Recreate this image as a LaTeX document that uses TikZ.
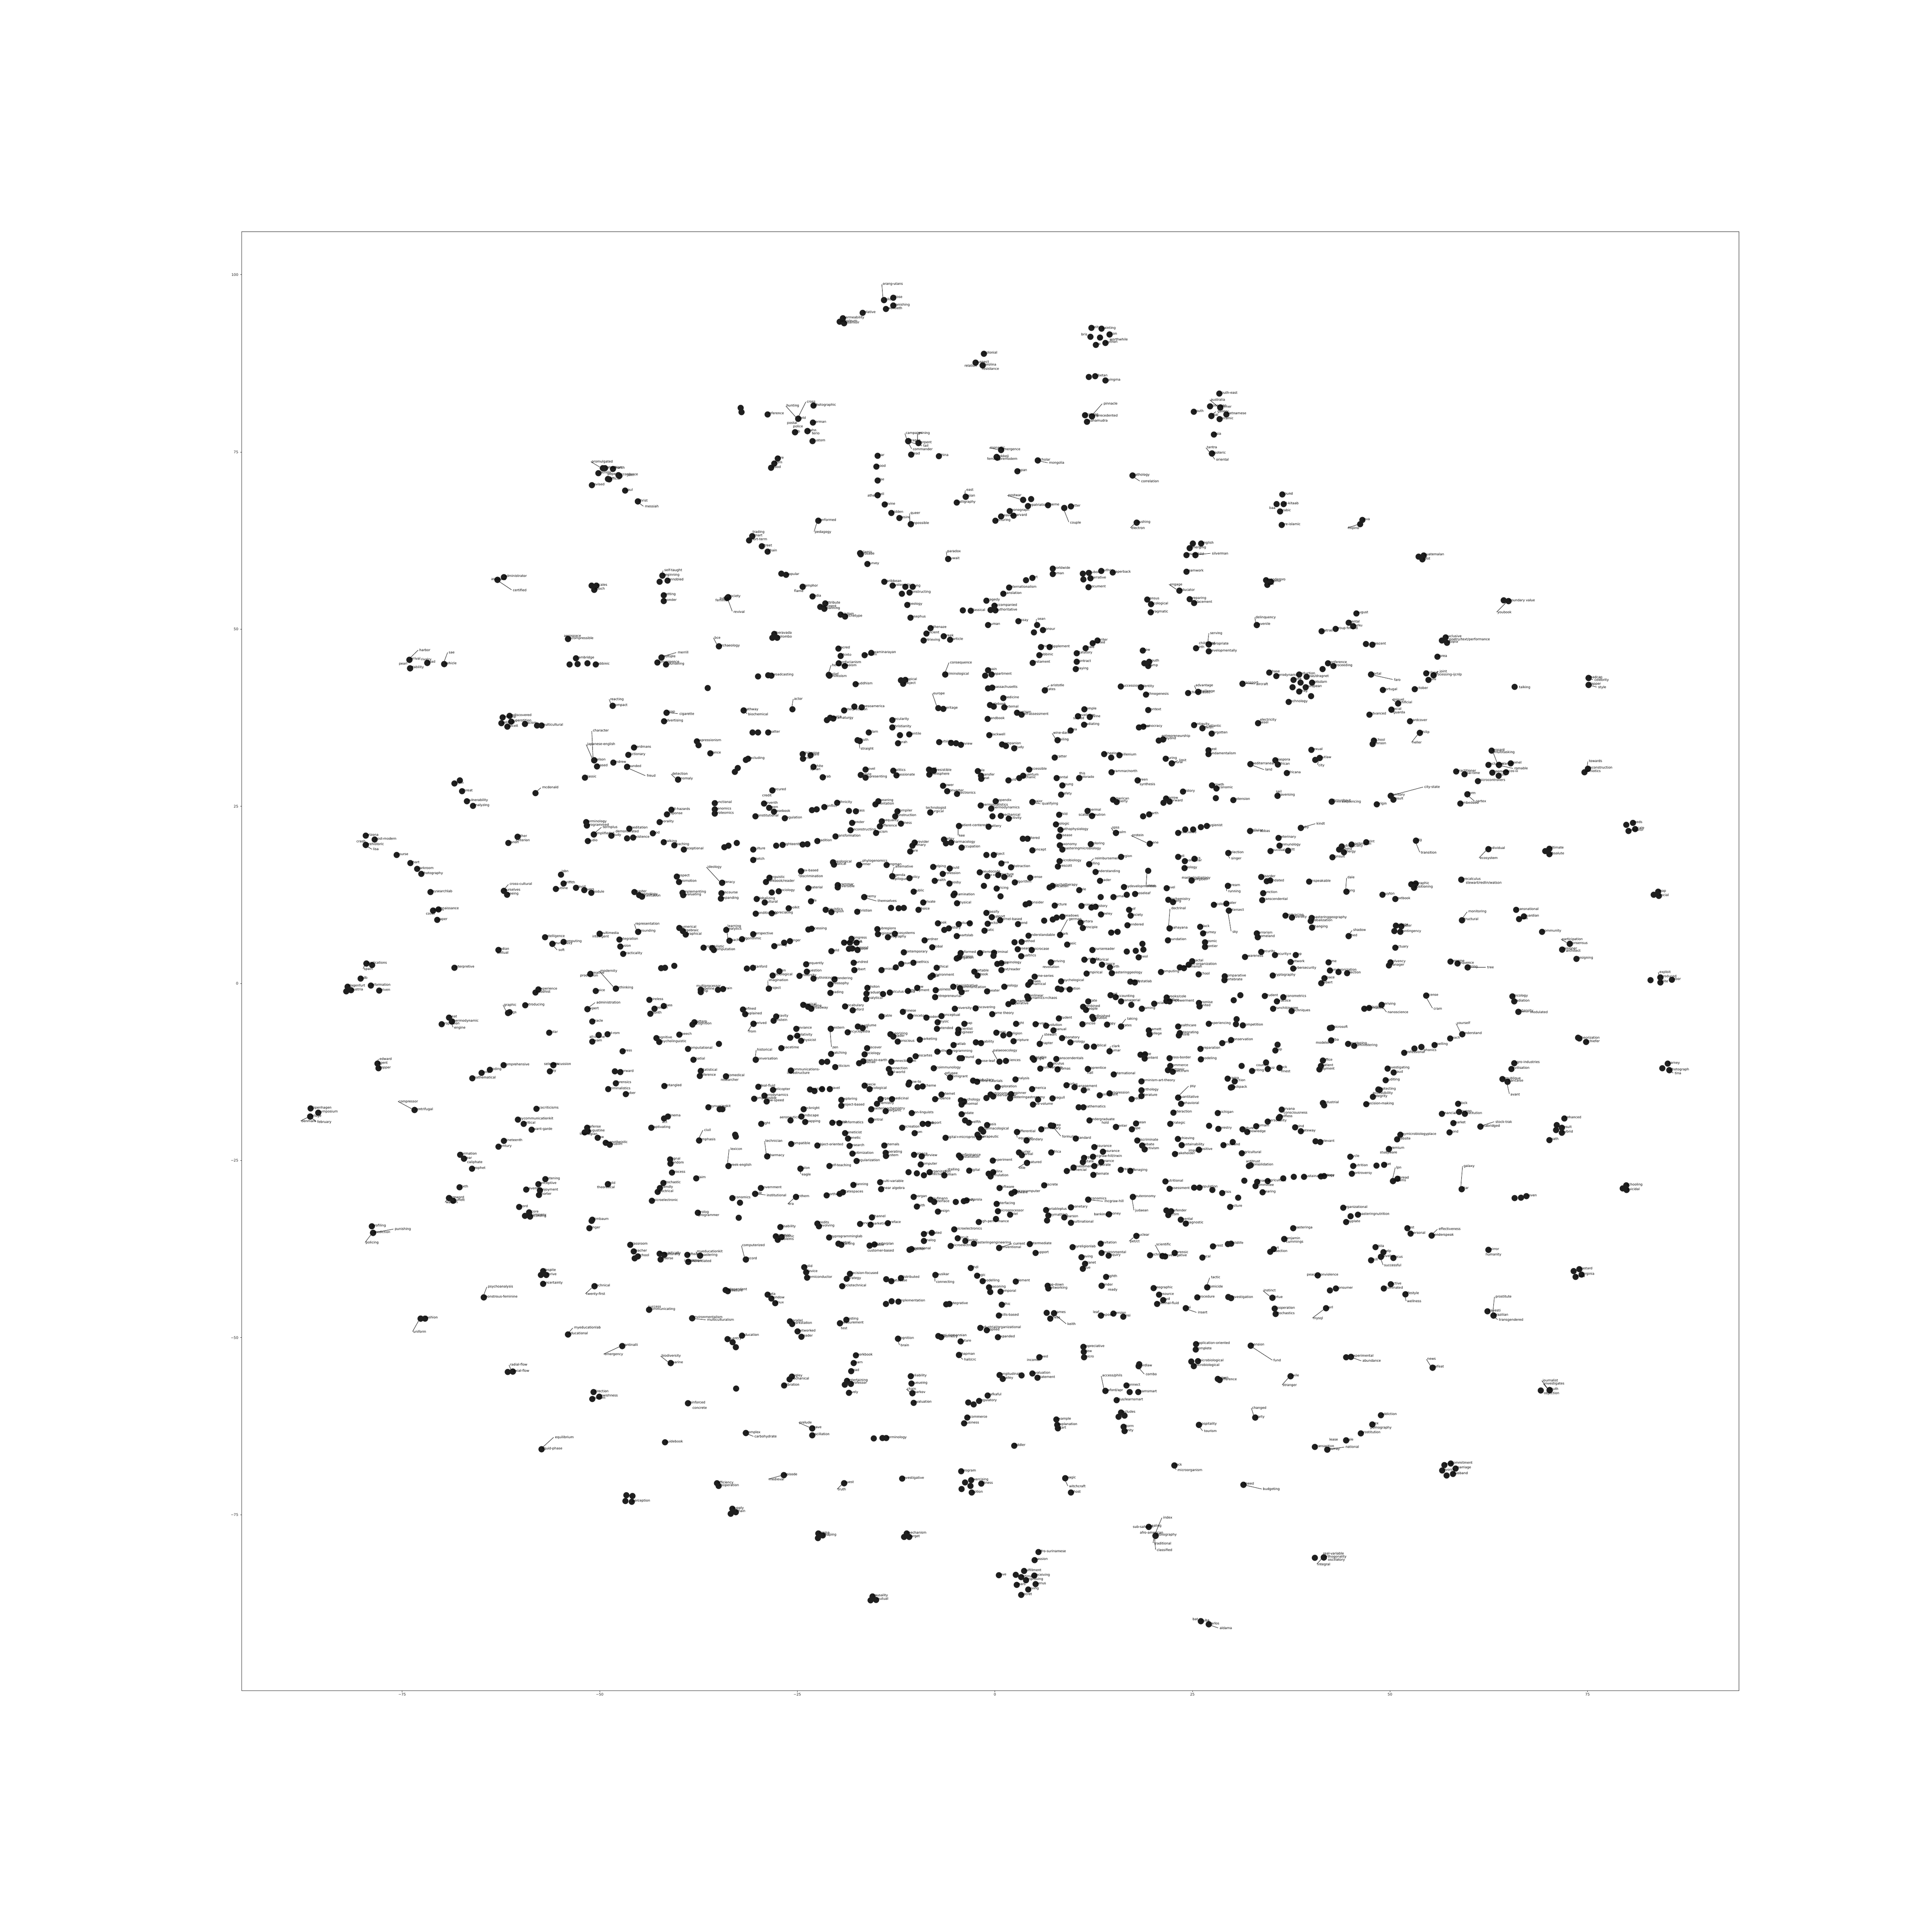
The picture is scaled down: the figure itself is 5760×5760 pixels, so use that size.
\documentclass[tikz,border=0pt]{standalone}
\usepackage{fontspec}
\setmainfont{DejaVu Sans}
\newbox\dotraw
\newbox\dotbox
\newdimen\dotsz
\tikzset{
  conn/.style={draw=black,line width=0.28pt,shorten <=2pt,shorten >=0.3pt},
  tick/.style={draw=black!85,line width=0.3pt},
  ticklbl/.style={font=\fontsize{3.0pt}{3.5pt}\selectfont,inner sep=0pt,text=black!85}
}
\def\lblfont{\fontsize{2.8pt}{3.3pt}\selectfont}
%================ data
\def\regionA{%
\Dq{1130}{746}{1095}{725}{promulgated}
\Dp{1137}{746}{catechism}
\Dp{1162}{748}{church}
\Dp{1116}{762}{catholic}
\Dl{1146}{780}{1145}{764}{pope}
\Dp{1179}{768}{accordance}
\Dp{1150}{781}{official}
\Dl{1182}{770}{1206}{768}{john}
\Dp{1096}{799}{revised}
\Dp{1200}{816}{paul}
\Dp{1240}{850}{christ}
\Dq{1240}{850}{1262}{866}{messiah}
\Dp{820}{1087}{administrator}
\Dl{800}{1096}{780}{1094}{assistant}
\Dq{800}{1096}{848}{1128}{certified}
\Dp{1095}{1114}{}
\Dp{1110}{1114}{scales}
\Dp{1103}{1127}{epoch}
\Dq{1317}{1083}{1323}{1066}{self-taught}
\Dp{1317}{1083}{beginning}
\Dp{1333}{1098}{ennobled}
\Dp{1308}{1102}{}
\Dp{1321}{1144}{setting}
\Dp{1321}{1162}{wonder}
\Dp{1523}{1150}{society}
\Dl{1523}{1150}{1496}{1154}{subject}
\Dl{1520}{1153}{1483}{1160}{feminist}
\Dq{1523}{1150}{1540}{1196}{revival}
\Dq{1494}{1304}{1480}{1277}{bce}
\Dp{1494}{1304}{archaeology}
\Dl{1021}{1281}{1008}{1271}{aerospace}
\Dp{1021}{1281}{incompressible}
\Dp{1046}{1342}{cambridge}
\Dp{1026}{1361}{}
\Dp{1051}{1360}{}
\Dp{1082}{1357}{}
\Dp{1108}{1361}{rabbinic}
\Dq{1314}{1339}{1365}{1324}{merrill}
\Dp{1314}{1339}{multiple}
\Dp{1301}{1355}{convergence}
\Dp{1328}{1361}{counseling}
\Dp{1459}{1435}{}
\Dq{524}{1346}{555}{1316}{harbor}
\Dp{524}{1346}{arrival}
\Dp{580}{1356}{road}
\Dl{580}{1356}{560}{1345}{rivalry}
\Dp{526}{1373}{stability}
\Dl{526}{1373}{491}{1359}{pearl}
\Dq{633}{1360}{647}{1323}{sae}
\Dp{633}{1360}{vehicle}
\Dq{1161}{1491}{1153}{1470}{reacting}
\Dp{1161}{1491}{compact}
\Dp{1330}{1512}{soap}
\Dq{1330}{1512}{1370}{1516}{cigarette}
\Dp{1322}{1539}{advertising}
\Dp{838}{1522}{rediscovered}
\Dp{816}{1527}{worship}
\Dp{843}{1540}{superstition}
\Dp{812}{1545}{political}
\Dp{831}{1556}{deceit}
\Dp{886}{1547}{racism}
\Dp{924}{1553}{}
\Dp{938}{1553}{multicultural}
\Dp{1562}{557}{}
\Dp{1565}{570}{}
}
\def\regionB{%
\Dq{445}{219}{441}{168}{orang-utans}
\Dp{445}{219}{wild}
\Dp{474}{212}{close}
\Dp{474}{236}{vanishing}
\Dp{451}{247}{twentieth}
\Dp{378}{259}{relative}
\Dp{316}{276}{permeability}
\Dp{306}{287}{petroleum}
\Dp{320}{292}{reservoir}
\Dp{1095}{306}{deity}
\Dp{1127}{309}{painting}
\Dp{1152}{327}{icon}
\Dl{1152}{327}{1152}{342}{worthwhile}
\Dl{1092}{334}{1063}{327}{bris}
\Dp{1122}{337}{}
\Dp{1139}{353}{python}
\Dp{1109}{359}{ku}
\Dp{758}{387}{colonial}
\Dp{732}{415}{suspect}
\Dl{732}{415}{697}{425}{relation}
\Dp{754}{424}{carolina}
\Dl{754}{424}{752}{434}{resistance}
\Dp{1087}{460}{}
\Dp{1107}{458}{tibetan}
\Dp{1139}{471}{nyingma}
\Dq{1097}{584}{1133}{543}{pinnacle}
\Dp{1097}{584}{unprecedented}
\Dp{1075}{580}{training}
\Dp{1081}{600}{mahamudra}
\Dp{1496}{512}{south-east}
\Dq{1499}{556}{1469}{531}{australia}
\Dp{1467}{552}{collection}
\Dp{1499}{556}{khmer}
\Dp{1416}{569}{south}
\Dp{1471}{582}{thai}
\Dq{1471}{582}{1490}{568}{gallery}
\Dp{1518}{577}{vietnamese}
\Dp{1497}{592}{ceramic}
\Dp{1479}{641}{asia}
\Dq{1473}{700}{1457}{681}{tantra}
\Dp{1473}{700}{esoteric}
\Dq{1473}{700}{1486}{719}{oriental}
\Dq{176}{591}{139}{550}{hunting}
\Dq{176}{591}{203}{537}{cross}
\Dp{224}{550}{photographic}
\Dp{176}{591}{field}
\Dp{222}{603}{german}
\Dp{166}{633}{rlb}
\Dl{166}{633}{141}{604}{postal}
\Dp{205}{630}{hahn}
\Dl{205}{630}{160}{615}{police}
\Dl{205}{630}{219}{637}{terio}
\Dp{221}{661}{custom}
\Dp{80}{577}{reference}
\Dp{112}{716}{fire}
\Dp{101}{731}{born}
\Dp{91}{745}{blood}
\Dq{521}{661}{513}{636}{campaign}
\Dq{553}{667}{553}{636}{mining}
\Dp{521}{661}{dragon}
\Dp{553}{667}{serpent}
\Dq{521}{661}{568}{676}{tail}
\Dq{521}{661}{535}{686}{commander}
\Dp{530}{703}{dead}
\Dp{617}{708}{china}
\Dp{425}{707}{war}
\Dp{421}{741}{wood}
\Dp{425}{784}{rise}
\Dp{425}{830}{hell}
\Dl{425}{830}{393}{832}{athe}
\Dp{447}{860}{divine}
\Dp{468}{886}{hidden}
\Dp{493}{902}{desire}
\Dq{529}{921}{528}{886}{queer}
\Dp{529}{921}{impossible}
\Dp{239}{911}{performed}
\Dq{239}{911}{228}{946}{pedagogy}
\Dq{812}{689}{777}{682}{monastic}
\Dp{812}{689}{emergence}
\Dp{798}{711}{hokkeji}
\Dl{798}{711}{768}{717}{female}
\Dl{800}{713}{806}{717}{premodern}
\Dp{927}{722}{scholar}
\Dq{927}{722}{962}{729}{mongolia}
\Dp{863}{755}{japan}
\Dp{1224}{769}{pathology}
\Dq{1224}{769}{1251}{787}{correlation}
\Dq{701}{835}{703}{814}{east}
\Dp{701}{835}{asian}
\Dp{673}{854}{calligraphy}
\Dq{881}{845}{834}{831}{postwar}
\Dp{881}{845}{}
\Dp{906}{843}{}
\Dp{896}{864}{repatriation}
\Dp{959}{862}{theme}
\Dp{839}{880}{monograph}
\Dp{812}{897}{heaven}
\Dp{851}{895}{harvard}
\Dp{794}{911}{lecturing}
\Dp{1010}{871}{}
\Dp{1031}{866}{latter}
\Dq{1010}{871}{1028}{916}{couple}
\Dp{1237}{917}{pushing}
\Dq{1237}{917}{1220}{934}{electron}
\Dl{32}{959}{33}{946}{trading}
\Dp{32}{959}{smart}
\Dp{22}{972}{short-term}
\Dp{62}{991}{street}
\Dp{80}{1007}{chain}
\Dp{370}{1012}{islamic}
\Dp{372}{1016}{crusade}
\Dp{393}{1046}{survey}
\Dq{646}{1031}{643}{1006}{paradox}
\Dp{646}{1031}{kuwait}
\Dp{123}{1077}{}
\Dp{138}{1080}{popular}
\Dp{190}{1117}{camphor}
\Dl{190}{1117}{163}{1131}{flame}
\Dp{221}{1148}{india}
\Dp{261}{1170}{attribute}
\Dp{245}{1181}{continent}
\Dp{258}{1187}{spanning}
\Dp{309}{1205}{wisdom}
\Dp{323}{1211}{archetype}
\Dp{974}{1061}{worldwide}
\Dp{974}{1078}{roman}
\Dp{1068}{1077}{}
\Dp{1087}{1074}{dubois}
\Dp{1126}{1068}{author}
\Dp{1162}{1073}{paperback}
\Dp{1070}{1095}{}
\Dp{1092}{1091}{narrative}
\Dp{1086}{1119}{document}
\Dp{910}{1090}{art}
\Dp{890}{1097}{}
\Dp{837}{1120}{internationalism}
\Dp{819}{1140}{translation}
\Dp{446}{1102}{caribbean}
\Dp{472}{1114}{systematic}
\Dp{512}{1118}{}
\Dp{535}{1117}{jung}
\Dp{525}{1136}{constructing}
\Dp{501}{1140}{}
\Dp{518}{1174}{theology}
\Dp{528}{1214}{josephus}
\Dp{766}{1161}{tragedy}
\Dp{791}{1177}{accompanied}
\Dp{779}{1190}{}
\Dp{794}{1192}{authoritative}
\Dp{692}{1191}{}
\Dp{717}{1193}{classical}
\Dp{771}{1237}{human}
\Dp{866}{1225}{essay}
\Dq{925}{1237}{926}{1218}{sean}
\Dp{943}{1253}{honour}
\Dp{915}{1261}{}
\Dp{591}{1247}{athenaze}
\Dp{578}{1264}{ancient}
\Dp{569}{1286}{retrieving}
\Dp{632}{1273}{greek}
\Dp{652}{1284}{particle}
\Dp{101}{1265}{theravada}
\Dp{95}{1278}{}
\Dp{110}{1277}{colombo}
\Dp{302}{1311}{sacred}
\Dp{309}{1334}{shinto}
\Dp{303}{1357}{confucianism}
\Dp{322}{1366}{taoism}
\Dq{272}{1394}{282}{1363}{hellenism}
\Dp{272}{1394}{belief}
\Dl{274}{1396}{278}{1398}{shintoism}
\Dp{384}{1332}{jainism}
\Dp{405}{1325}{swaminarayan}
\Dp{356}{1423}{buddhism}
\Dp{50}{1399}{}
\Dp{82}{1395}{}
\Dp{92}{1396}{broadcasting}
\Dp{637}{1393}{criminological}
\Dq{637}{1393}{652}{1355}{consequence}
\Dp{498}{1411}{}
\Dp{512}{1410}{topical}
\Dp{505}{1422}{subject}
\Dp{771}{1379}{main}
\Dp{762}{1396}{}
\Dp{782}{1393}{department}
\Dp{771}{1436}{}
\Dp{784}{1434}{massachusetts}
\Dp{819}{1467}{medicine}
\Dq{615}{1498}{599}{1452}{europe}
\Dp{631}{1500}{heritage}
\Dq{158}{1501}{163}{1469}{actor}
\Dp{5}{1505}{pathway}
\Dq{5}{1505}{19}{1517}{biochemical}
\Dp{352}{1493}{}
\Dp{375}{1495}{mesoamerica}
\Dp{320}{1505}{interpretation}
\Dp{266}{1535}{}
\Dp{276}{1528}{source}
\Dp{286}{1531}{dramaturgy}
\Dp{471}{1535}{secularity}
\Dp{471}{1558}{christianity}
\Dp{777}{1488}{notebook}
\Dp{789}{1493}{}
\Dp{822}{1496}{external}
\Dp{770}{1532}{handbook}
\Dp{862}{1513}{harrison}
\Dp{876}{1519}{self-assessment}
\Dp{1073}{1502}{temple}
\Dp{1053}{1523}{revelation}
\Dl{1053}{1523}{1038}{1530}{sacred}
\Dp{1090}{1526}{divine}
\Dp{1072}{1550}{radiating}
\Dp{949}{1442}{states}
\Dq{949}{1442}{967}{1427}{aristotle}
\Dp{1187}{1430}{succession}
\Dp{1250}{1432}{identity}
\Dp{1266}{1456}{ethnogenesis}
\Dp{1273}{1504}{context}
\Dp{1244}{1558}{liberal}
\Dp{1258}{1556}{democracy}
\Dq{1430}{1447}{1421}{1427}{advantage}
\Dp{1430}{1447}{challenge}
\Dp{1398}{1451}{school-based}
\Dp{1417}{1551}{antiquity}
\Dp{1443}{1561}{jewish}
\Dq{1443}{1561}{1463}{1554}{atlantic}
\Dp{1256}{1318}{flow}
\Dp{1049}{1326}{statutory}
\Dp{1077}{1310}{male}
\Dp{1099}{1295}{trusted}
\Dp{1114}{1286}{writer}
\Dp{937}{1306}{journal}
\Dp{964}{1307}{supplement}
\Dp{932}{1332}{rabbinic}
\Dp{911}{1356}{testament}
\Dp{1049}{1353}{contract}
\Dp{1046}{1376}{playing}
\Dp{1261}{1357}{}
\Dp{1276}{1352}{youth}
\Dp{1273}{1366}{camp}
\Dp{1413}{982}{}
\Dp{1439}{982}{english}
\Dp{1403}{997}{emerging}
\Dp{1393}{1018}{reuse}
\Dp{1421}{1018}{child}
\Dq{1421}{1018}{1473}{1013}{silverman}
\Dp{1393}{1070}{teamwork}
\Dq{1371}{1130}{1341}{1110}{engage}
\Dp{1371}{1130}{educator}
\Dp{1270}{1157}{census}
\Dp{1282}{1172}{ecological}
\Dp{1281}{1198}{pragmatic}
\Dp{1403}{1156}{preparing}
\Dp{1417}{1168}{placement}
\Dq{1463}{1298}{1467}{1263}{serving}
\Dp{1463}{1298}{appropriate}
\Dl{1463}{1298}{1432}{1294}{childhood}
\Dp{1423}{1310}{birth}
\Dp{1463}{1320}{developmentally}
}
\def\regionC{%
\Dp{127}{828}{sound}
\Dp{131}{859}{al-kitaab}
\Dl{109}{858}{86}{871}{baa}
\Dp{120}{881}{arabic}
\Dp{125}{924}{pre-islamic}
\Dp{378}{908}{java}
\Dq{371}{921}{333}{934}{filipino}
\Dp{554}{1023}{}
\Dp{570}{1019}{guatemalan}
\Dp{566}{1032}{pilot}
\Dp{76}{1097}{encoderpro}
\Dp{91}{1102}{demo}
\Dp{80}{1112}{sim}
\Dp{47}{1237}{juvenile}
\Dq{47}{1237}{43}{1213}{delinquency}
\Dp{359}{1201}{august}
\Dp{335}{1230}{dental}
\Dp{349}{1241}{turku}
\Dl{349}{1241}{328}{1247}{finland}
\Dp{250}{1257}{patras}
\Dp{294}{1250}{group}
\Dp{389}{1297}{}
\Dp{409}{1299}{descent}
\Dp{639}{1276}{exclusive}
\Dl{627}{1286}{650}{1282}{poetry/text/performance}
\Dp{643}{1293}{utopia}
\Dp{613}{1337}{korea}
\Dp{821}{1160}{}
\Dp{836}{1163}{boundary value}
\Dq{836}{1163}{801}{1198}{youbook}
\Dp{270}{1357}{conference}
\Dp{287}{1366}{proceeding}
\Dp{253}{1375}{}
\Dp{86}{1386}{phase}
\Dp{108}{1397}{aerodynamic}
\Dp{180}{1392}{induction}
\Dp{203}{1400}{seas/dragnet}
\Dp{162}{1409}{note}
\Dp{184}{1418}{}
\Dp{220}{1418}{potsdam}
\Dp{159}{1432}{}
\Dp{200}{1432}{european}
\Dp{180}{1446}{drag}
\Dp{217}{1460}{}
\Dp{147}{1479}{technology}
\Dp{2}{1421}{transport}
\Dq{2}{1421}{45}{1423}{aircraft}
\Dp{405}{1393}{portal}
\Dq{405}{1393}{477}{1409}{faro}
\Dp{442}{1441}{portugal}
\Dp{542}{1438}{october}
\Dp{578}{1389}{finland}
\Dp{601}{1395}{processing-ijcnlp}
\Dq{601}{1395}{620}{1383}{joint}
\Dp{585}{1410}{oulu}
\Dp{490}{1483}{artificial}
\Dq{490}{1483}{473}{1471}{miguel}
\Dp{469}{1503}{social}
\Dl{469}{1503}{475}{1511}{guarda}
\Dp{400}{1518}{advanced}
\Dl{855}{1431}{869}{1433}{talking}
\Dp{1087}{1404}{madcap}
\Dq{1087}{1404}{1105}{1410}{celebrity}
\Dp{1087}{1425}{dapper}
\Dq{1087}{1425}{1117}{1433}{style}
}
\def\regionD{%
\Dq{1103}{134}{1099}{41}{character}
\Dq{1103}{134}{1081}{83}{japanese-english}
\Dp{1103}{134}{nelson}
\Dp{1112}{153}{based}
\Dp{1163}{141}{andrew}
\Dp{1206}{155}{founded}
\Dq{1206}{155}{1268}{182}{freud}
\Dp{1228}{94}{eerdmans}
\Dp{1210}{117}{dictionary}
\Dp{1074}{188}{classic}
\Dp{1366}{194}{anomaly}
\Dq{1366}{194}{1347}{176}{detection}
\Dp{1425}{74}{expressionism}
\Dp{1430}{87}{}
\Dp{1467}{112}{dance}
\Dp{1544}{170}{}
\Dp{1553}{158}{}
\Dp{665}{207}{myth}
\Dp{682}{197}{}
\Dp{689}{231}{threat}
\Dp{704}{262}{vulnerability}
\Dp{723}{277}{analyzing}
\Dq{919}{237}{940}{219}{mcdonald}
\Dp{387}{370}{arizona}
\Dp{415}{382}{post-modern}
\Dp{387}{399}{prehistoric}
\Dl{387}{399}{358}{388}{crash}
\Dq{387}{399}{410}{413}{lisa}
\Dp{484}{431}{course}
\Dp{527}{456}{short}
\Dp{548}{474}{darkroom}
\Dp{561}{490}{photography}
\Dp{590}{547}{mysearchlab}
\Dp{598}{605}{italian}
\Dp{615}{601}{renaissance}
\Dl{598}{605}{576}{615}{cover}
\Dp{611}{634}{paper}
\Dp{863}{374}{other}
\Dl{863}{374}{858}{384}{criterion}
\Dp{834}{393}{canon}
\Dp{1078}{328}{terminology}
\Dp{1080}{339}{programmed}
\Dp{1102}{366}{simplified}
\Dq{1102}{366}{1130}{343}{termplus}
\Dp{1157}{370}{study}
\Dq{1157}{370}{1170}{357}{demonstrated}
\Dp{1083}{387}{audio}
\Dp{1213}{348}{meditation}
\Dp{1206}{378}{}
\Dp{1225}{376}{existence}
\Dp{1287}{363}{god}
\Dp{1345}{289}{all-hazards}
\Dp{1331}{303}{response}
\Dp{1308}{328}{morality}
\Dp{1321}{390}{walking}
\Dp{1354}{400}{teaching}
\Dp{1384}{413}{exceptional}
\Dp{1481}{268}{functional}
\Dp{1481}{288}{genomics}
\Dp{1481}{301}{proteomics}
\Dp{1511}{406}{}
\Dp{1524}{402}{}
\Dp{1550}{393}{}
\Dq{1504}{518}{1458}{468}{ideology}
\Dp{1504}{518}{literacy}
\Dl{999}{492}{1001}{481}{isbn}
\Dp{1007}{520}{griffith}
\Dp{983}{537}{outline}
\Dp{1046}{533}{david}
\Dp{1072}{541}{rivers}
\Dp{1094}{549}{module}
\Dp{820}{543}{ourselves}
\Dq{820}{543}{838}{522}{cross-cultural}
\Dp{830}{555}{seeing}
\Dp{1229}{547}{master}
\Dp{1244}{556}{cosmology}
\Dp{1253}{561}{gravitation}
\Dp{1362}{498}{respect}
\Dp{1369}{515}{promotion}
\Dp{1380}{549}{implementing}
\Dp{1382}{557}{evaluating}
\Dp{1502}{551}{discourse}
\Dp{1500}{568}{expanding}
\Dp{1241}{671}{grounding}
\Dq{1241}{671}{1232}{646}{representation}
\Dp{1370}{659}{numerical}
\Dp{1381}{669}{algebraic}
\Dp{1390}{680}{graphical}
\Dq{1527}{700}{1521}{653}{learning}
\Dp{1517}{665}{analytics}
\Dp{1527}{700}{machine}
\Dp{1446}{721}{probabilistic}
\Dp{1473}{722}{}
\Dp{1478}{729}{computation}
\Dp{1120}{678}{multimedia}
\Dl{1120}{678}{1097}{686}{intelligent}
\Dp{1182}{696}{integration}
\Dp{1185}{718}{fusion}
\Dp{1194}{741}{practicality}
\Dp{949}{688}{intelligence}
\Dp{1007}{703}{computing}
\Dp{972}{709}{neuro-fuzzy}
\Dq{972}{709}{991}{729}{soft}
\Dp{803}{728}{indian}
\Dl{803}{728}{798}{737}{textual}
\Dp{665}{784}{interpretive}
\Dp{389}{771}{applications}
\Dp{407}{776}{}
\Dq{389}{771}{381}{788}{spain}
\Dp{371}{818}{bdb}
\Dp{330}{843}{klagenfurt}
\Dp{341}{855}{austria}
\Dp{326}{858}{}
\Dp{403}{840}{information}
\Dp{429}{856}{driven}
\Dp{1091}{803}{creative}
\Dl{1091}{803}{1059}{808}{production}
\Dp{1171}{849}{rethinking}
\Dq{1171}{849}{1122}{794}{modernity}
\Dp{1108}{857}{voice}
\Dp{928}{852}{experience}
\Dp{919}{862}{buddhist}
\Dp{887}{902}{introducing}
\Dp{838}{924}{}
\Dp{833}{926}{eggs}
\Dq{833}{926}{820}{900}{graphic}
\Dp{648}{940}{heat}
\Dp{657}{953}{thermodynamic}
\Dp{625}{961}{propulsion}
\Dq{657}{953}{664}{972}{engine}
\Dp{1082}{914}{expert}
\Dq{1082}{914}{1110}{893}{administration}
\Dp{1097}{953}{oracle}
\Dp{962}{988}{solar}
\Dp{1117}{995}{}
\Dp{1145}{992}{cd-rom}
\Dp{1097}{1015}{exam}
\Dl{1117}{995}{1088}{1001}{all-in-one}
\Dp{1192}{1046}{press}
\Dp{1276}{885}{wireless}
\Dp{1292}{912}{modem}
\Dp{1321}{904}{class}
\Dp{1279}{928}{month}
\Dp{1437}{853}{pipeline}
\Dl{1437}{853}{1423}{841}{multiprocessor}
\Dp{1437}{860}{chip}
\Dp{1491}{853}{}
\Dp{1507}{851}{brain}
\Dp{1417}{955}{pattern}
\Dp{1411}{962}{recognition}
\Dp{1370}{994}{speech}
\Dp{1298}{1005}{cognitive}
\Dp{1307}{1017}{psycholinguistic}
\Dp{1397}{1038}{computational}
\Dp{1494}{1023}{}
\Dp{1414}{1072}{spatial}
\Dp{1437}{1107}{statistical}
\Dp{1434}{1123}{inference}
\Dp{1516}{1124}{biomedical}
\Dl{1516}{1124}{1500}{1136}{researcher}
\Dp{1313}{785}{}
\Dp{1325}{784}{}
\Dp{1354}{778}{}
\Dp{819}{1090}{comprehensive}
\Dp{776}{1104}{coding}
\Dp{750}{1114}{zero}
\Dp{721}{1131}{mathematical}
\Dp{975}{1089}{discussion}
\Dl{975}{1089}{946}{1086}{selection}
\Dp{964}{1109}{key}
\Dp{1168}{1109}{}
\Dp{1185}{1111}{forward}
\Dp{1171}{1146}{forensics}
\Dp{1147}{1165}{criminalistics}
\Dp{1202}{1180}{cyber}
\Dp{1323}{1155}{entangled}
\Dq{424}{1085}{430}{1070}{edward}
\Dp{424}{1085}{agent}
\Dp{427}{1099}{hopper}
\Dp{214}{1225}{copenhagen}
\Dp{238}{1238}{symposium}
\Dp{213}{1251}{bridge}
\Dq{213}{1251}{185}{1265}{denmark}
\Dq{213}{1251}{235}{1267}{february}
\Dp{540}{1230}{centrifugal}
\Dq{540}{1230}{490}{1203}{compressor}
\Dp{922}{1226}{ecocriticisms}
\Dp{864}{1260}{mycommunicationkit}
\Dp{882}{1273}{critical}
\Dp{907}{1292}{avant-garde}
\Dp{1081}{1285}{defense}
\Dp{1083}{1297}{augustine}
\Dl{1073}{1300}{1058}{1305}{theologian}
\Dp{1114}{1317}{law}
\Dp{1139}{1333}{monotheistic}
\Dp{1152}{1339}{muslim}
\Dp{820}{1327}{nineteenth}
\Dp{803}{1345}{century}
\Dp{683}{1370}{formation}
\Dp{695}{1383}{year}
\Dl{695}{1383}{705}{1393}{caliphate}
\Dp{720}{1414}{prophet}
\Dp{1334}{1250}{cinema}
\Dl{1322}{1257}{1316}{1268}{act}
\Dp{1282}{1286}{captivating}
\Dp{1432}{1325}{emphasis}
\Dq{1432}{1325}{1448}{1293}{civil}
\Dp{1524}{1405}{greek-english}
\Dq{1524}{1405}{1530}{1352}{lexicon}
\Dp{1545}{1307}{}
\Dp{1547}{1314}{}
\Dp{1461}{1221}{mynursingkit}
\Dp{1496}{1227}{}
\Dp{1505}{1227}{}
\Dp{1341}{1385}{signal}
\Dp{1342}{1398}{random}
\Dp{1347}{1426}{process}
\Dp{1423}{1444}{claim}
\Dp{1146}{1462}{cold}
\Dl{1146}{1462}{1112}{1472}{theoretical}
\Dp{950}{1447}{listening}
\Dp{928}{1462}{perceptive}
\Dp{890}{1479}{seventh}
\Dp{933}{1482}{enjoyment}
\Dp{930}{1496}{shorter}
\Dp{681}{1472}{sixth}
\Dp{1320}{1459}{stochastic}
\Dp{1309}{1474}{friendly}
\Dp{1302}{1487}{electrical}
}
\def\regionE{%
\Dp{33}{47}{}
\Dp{50}{47}{}
\Dp{82}{47}{matter}
\Dp{397}{47}{islam}
\Dp{362}{71}{}
\Dp{369}{73}{truth}
\Dq{369}{73}{372}{97}{straight}
\Dp{495}{55}{}
\Dp{524}{53}{gentile}
\Dp{489}{80}{torah}
\Dp{618}{77}{outsider}
\Dp{655}{79}{}
\Dp{671}{80}{}
\Dp{686}{85}{review}
\Dp{775}{55}{blackwell}
\Dp{815}{84}{companion}
\Dp{827}{89}{}
\Dp{853}{96}{study}
\Dq{989}{71}{975}{48}{wine-dark}
\Dp{989}{71}{sailing}
\Dp{1030}{40}{sea}
\Dp{1135}{115}{wheelock}
\Dp{1157}{125}{}
\Dp{1183}{118}{millenium}
\Dp{1306}{72}{}
\Dp{1320}{68}{beyond}
\Dl{1320}{68}{1315}{58}{entrepreneurship}
\Dp{1462}{102}{west}
\Dp{1462}{115}{fundamentalism}
\Dp{1472}{50}{forgotten}
\Dp{1328}{129}{during}
\Dp{1347}{143}{neural}
\Dq{1347}{143}{1370}{134}{limit}
\Dp{19}{129}{excluding}
\Dp{12}{132}{}
\Dp{190}{114}{philippine}
\Dp{215}{118}{ware}
\Dp{191}{129}{land}
\Dp{224}{155}{white}
\Dp{253}{187}{arab}
\Dl{253}{187}{214}{162}{syrian}
\Dp{387}{163}{novel}
\Dp{372}{180}{movie}
\Dp{387}{188}{representing}
\Dp{474}{167}{politics}
\Dp{484}{181}{passionate}
\Dp{586}{163}{shift}
\Dp{601}{167}{irresistible}
\Dp{587}{179}{hemisphere}
\Dp{739}{168}{tale}
\Dp{749}{182}{transfer}
\Dp{750}{192}{heat}
\Dp{900}{163}{accessible}
\Dp{881}{182}{quantum}
\Dp{869}{190}{mechanic}
\Dp{835}{197}{fluid}
\Dp{980}{125}{scatter}
\Dp{1057}{189}{colorado}
\Dl{1057}{189}{1057}{175}{this}
\Dp{986}{190}{frontal}
\Dp{1004}{212}{young}
\Dp{1000}{241}{safety}
\Dp{1158}{171}{grammar/north}
\Dp{1240}{197}{green}
\Dl{1240}{197}{1246}{209}{synthesis}
\Dp{1473}{213}{growth}
\Dp{1487}{222}{economic}
\Dp{1382}{232}{history}
\Dp{630}{214}{power}
\Dp{643}{231}{converter}
\Dp{674}{239}{electronics}
\Dp{95}{228}{secured}
\Dl{95}{228}{63}{244}{credit}
\Dp{69}{270}{seventh}
\Dp{85}{283}{open}
\Dp{100}{295}{casebook}
\Dp{42}{310}{constitutional}
\Dp{134}{316}{regulation}
\Dp{298}{267}{ethnicity}
\Dp{258}{280}{conflict}
\Dp{219}{290}{}
\Dp{234}{288}{}
\Dp{427}{262}{meaning}
\Dp{418}{272}{orientation}
\Dp{335}{292}{}
\Dp{357}{294}{class}
\Dp{487}{294}{compiler}
\Dp{480}{309}{construction}
\Dp{590}{297}{surgical}
\Dl{590}{297}{576}{283}{technologist}
\Dp{795}{262}{appendix}
\Dp{748}{276}{thermostatistics}
\Dp{781}{285}{thermodynamics}
\Dp{910}{265}{major}
\Dq{910}{265}{940}{270}{qualifying}
\Dp{785}{309}{}
\Dp{811}{308}{mechanical}
\Dp{836}{317}{activity}
\Dp{1083}{292}{thermal}
\Dp{1097}{308}{neutron}
\Dl{1097}{308}{1055}{305}{scattering}
\Dp{1163}{257}{american}
\Dp{1174}{265}{liberty}
\Dp{1329}{254}{narrow}
\Dp{1321}{267}{}
\Dp{1340}{263}{forward}
\Dp{1485}{253}{}
\Dp{1540}{258}{extension}
\Dp{1257}{310}{}
\Dp{1276}{303}{earth}
\Dp{994}{305}{child}
\Dp{438}{325}{inequality}
\Dp{432}{341}{difference}
\Dp{498}{333}{illness}
\Dp{345}{330}{gender}
\Dp{340}{353}{deconstructing}
\Dp{420}{361}{racism}
\Dp{293}{373}{transformation}
\Dp{680}{340}{patient-centered}
\Dq{680}{340}{680}{370}{kee}
\Dp{773}{342}{battery}
\Dp{984}{335}{biologic}
\Dp{998}{352}{pathophysiology}
\Dp{994}{372}{disease}
\Dp{1172}{362}{realm}
\Dq{1172}{362}{1160}{344}{spss}
\Dp{1188}{437}{region}
\Dp{1278}{395}{gene}
\Dq{1278}{395}{1222}{369}{protein}
\Dp{1367}{362}{associated}
\Dp{1389}{350}{}
\Dp{1414}{350}{}
\Dp{1438}{343}{}
\Dp{1457}{340}{hygienist}
\Dp{895}{380}{altered}
\Dp{880}{380}{}
\Dp{541}{392}{provider}
\Dp{534}{402}{primary}
\Dp{527}{420}{care}
\Dp{633}{382}{valley}
\Dp{639}{394}{}
\Dp{655}{392}{pharmacology}
\Dp{688}{407}{occupation}
\Dp{236}{387}{tradition}
\Dp{190}{398}{}
\Dp{205}{397}{}
\Dp{107}{402}{}
\Dp{127}{399}{eighteenth}
\Dp{35}{413}{culture}
\Dp{35}{446}{sketch}
\Dp{910}{416}{concept}
\Dp{996}{400}{taxonomy}
\Dp{1004}{413}{masteringmicrobiology}
\Dp{1093}{397}{coloring}
\Dp{766}{430}{}
\Dp{789}{430}{object}
\Dp{995}{450}{microbiology}
\Dp{990}{467}{prescott}
\Dp{1088}{460}{billing}
\Dq{1088}{460}{1106}{441}{reimbursement}
\Dp{1108}{484}{understanding}
\Dp{1122}{512}{leader}
\Dp{1367}{437}{cell}
\Dp{1388}{450}{molecular}
\Dp{1418}{443}{ecs}
\Dp{1387}{472}{biology}
\Dq{1273}{480}{1270}{528}{stem}
\Dp{1524}{425}{selection}
\Dq{1524}{425}{1533}{442}{singer}
\Dp{285}{454}{theological}
\Dp{288}{461}{biblical}
\Dp{367}{462}{farmer}
\Dq{367}{462}{377}{449}{phylogenomics}
\Dp{453}{462}{longman}
\Dp{471}{497}{agenda}
\Dq{471}{497}{480}{467}{alternative}
\Dq{471}{497}{473}{506}{epilogue}
\Dp{185}{482}{sex-based}
\Dq{185}{482}{180}{497}{discrimination}
\Dp{86}{502}{linguistic}
\Dp{75}{515}{workbook/reader}
\Dp{599}{468}{helping}
\Dp{651}{473}{could}
\Dp{629}{490}{profession}
\Dp{604}{512}{health}
\Dp{650}{520}{mosby}
\Dp{525}{503}{policy}
\Dp{745}{485}{pseudocode}
\Dp{769}{497}{c++}
\Dp{803}{494}{structure}
\Dp{822}{500}{data}
\Dp{758}{528}{}
\Dp{813}{457}{java}
\Dp{843}{469}{abstraction}
\Dp{855}{517}{algorithm}
\Dp{903}{502}{license}
\Dp{964}{532}{application}
\Dp{973}{527}{psychotherapy}
\Dp{1057}{541}{role}
\Dp{1197}{531}{mydevelopmentlab}
\Dp{1232}{553}{looseleaf}
\Dp{1206}{555}{}
\Dp{1164}{563}{human}
\Dp{1124}{563}{}
\Dp{1409}{510}{campbell}
\Dl{1409}{510}{1378}{502}{masteringbiology}
\Dp{1331}{535}{level}
\Dp{1523}{528}{stream}
\Dq{1523}{528}{1523}{545}{running}
\Dp{208}{535}{material}
\Dp{300}{525}{grammar}
\Dp{300}{532}{reversible}
\Dp{93}{548}{}
\Dp{115}{544}{sociology}
\Dp{46}{569}{globalizing}
\Dp{71}{580}{cultural}
\Dp{538}{545}{public}
\Dp{666}{552}{}
\Dp{663}{557}{examination}
\Dp{674}{582}{physical}
\Dp{798}{536}{pricing}
\Dp{810}{560}{}
\Dp{383}{563}{enemy}
\Dq{383}{563}{425}{575}{themselves}
\Dp{216}{576}{life}
\Dp{1336}{571}{biochemistry}
\Dp{1351}{578}{berg}
\Dp{1479}{587}{ecology}
\Dp{1518}{583}{water}
\Dp{1526}{605}{intersect}
\Dq{1526}{605}{1537}{671}{sky}
\Dp{43}{615}{conditioning}
\Dp{93}{614}{appreciating}
\Dp{146}{598}{toolkit}
\Dp{262}{603}{linguistics}
\Dp{280}{610}{english}
\Dp{361}{608}{christian}
\Dp{467}{597}{}
\Dp{491}{598}{}
\Dp{507}{596}{}
\Dp{553}{602}{choice}
\Dp{568}{580}{private}
\Dp{889}{585}{}
\Dp{900}{582}{consider}
\Dp{980}{589}{picture}
\Dp{1064}{590}{animal}
\Dp{1095}{595}{}
\Dp{1108}{593}{history}
\Dp{1125}{617}{keeley}
\Dp{1213}{603}{self}
\Dp{1218}{621}{society}
\Dp{1208}{651}{gendered}
\Dp{1061}{642}{sartora}
\Dp{1068}{660}{principle}
\Dp{1157}{674}{title}
\Dp{1177}{671}{}
\Dq{1340}{661}{1345}{598}{doctrinal}
\Dp{1340}{661}{mahayana}
\Dp{1436}{656}{black}
\Dp{1445}{676}{journey}
\Dp{766}{612}{classify}
\Dp{783}{626}{support}
\Dp{770}{646}{vector}
\Dp{809}{635}{kernel-based}
\Dp{865}{647}{trend}
\Dp{760}{668}{static}
\Dp{714}{645}{}
\Dp{679}{647}{volume}
\Dp{614}{645}{book}
\Dp{634}{665}{}
\Dp{648}{661}{history}
\Dp{673}{685}{swartslab}
\Dp{947}{637}{}
\Dp{974}{633}{}
\Dp{986}{627}{}
\Dp{1004}{624}{meadows}
\Dq{997}{681}{1024}{632}{german}
\Dp{997}{681}{park}
\Dp{898}{684}{understandable}
\Dp{35}{679}{perspective}
\Dp{0}{695}{algorithmic}
\Dp{208}{664}{processing}
\Dp{218}{662}{}
\Dp{424}{663}{subregions}
\Dp{426}{679}{regional}
\Dp{457}{689}{geography}
\Dp{479}{678}{ecosystems}
\Dp{343}{693}{congress}
\Dp{338}{705}{}
\Dp{359}{705}{bill}
\Dp{320}{706}{delegation}
\Dp{335}{725}{}
\Dp{345}{724}{richmond}
\Dp{362}{728}{vision}
\Dp{132}{706}{}
\Dp{150}{701}{singer}
\Dp{101}{716}{coining}
\Dp{280}{732}{field}
\Dp{572}{698}{gardner}
\Dp{596}{720}{global}
\Dp{507}{736}{contemporary}
\Dp{1019}{711}{basic}
\Dp{1255}{709}{}
\Dp{1258}{727}{}
\Dp{1206}{733}{}
\Dp{1234}{731}{}
\Dp{1335}{698}{foundation}
\Dp{1451}{704}{cosmic}
\Dp{1451}{719}{frontier}
\Dp{1098}{728}{coursereader}
\Dp{1243}{752}{sheol}
\Dp{854}{704}{}
\Dp{876}{703}{method}
\Dp{864}{726}{research}
\Dp{908}{728}{microcase}
\Dp{875}{748}{qualtrics}
\Dp{685}{738}{informed}
\Dp{680}{752}{decision}
\Dp{673}{755}{obligation}
\Dp{746}{738}{dilemma}
\Dp{790}{737}{criminal}
\Dp{788}{747}{}
\Dp{813}{770}{criminology}
\Dp{800}{772}{justice}
\Dp{813}{792}{text/reader}
\Dp{968}{767}{deriving}
\Dl{968}{767}{942}{782}{revolution}
\Dp{1073}{759}{symbolic}
\Dp{1100}{762}{historical}
\Dp{1128}{775}{science}
\Dp{1153}{783}{north}
\Dp{1411}{764}{fractal}
\Dp{1400}{775}{self-organization}
\Dp{1372}{783}{phenomenon}
\Dp{1385}{786}{}
\Dp{1313}{798}{computing}
\Dp{1431}{805}{school}
\Dp{1513}{811}{comparative}
\Dp{1512}{823}{vertebrate}
\Dp{201}{773}{frequently}
\Dp{203}{796}{question}
\Dp{180}{810}{university}
\Dp{224}{818}{mythinkinglab}
\Dp{290}{820}{wondering}
\Dp{277}{836}{philosophy}
\Dp{277}{863}{reading}
\Dp{15}{787}{}
\Dp{34}{784}{stanford}
\Dp{117}{795}{zen}
\Dp{96}{808}{sociological}
\Dq{84}{850}{83}{823}{imagination}
\Dp{84}{850}{project}
\Dp{350}{769}{hundred}
\Dp{352}{792}{gilbert}
\Dp{437}{791}{feminist}
\Dp{482}{783}{}
\Dp{499}{772}{issue}
\Dp{537}{769}{bioethics}
\Dp{610}{784}{ethical}
\Dp{728}{796}{portable}
\Dp{738}{808}{ebook}
\Dp{591}{813}{legal}
\Dp{597}{809}{environment}
\Dp{917}{812}{time-series}
\Dp{904}{829}{chaos}
\Dp{897}{838}{dynamical}
\Dp{822}{843}{geology}
\Dp{1000}{826}{psychological}
\Dp{990}{850}{}
\Dp{1000}{852}{association}
\Dp{1027}{852}{}
\Dp{1080}{802}{empirical}
\Dp{1159}{801}{masteringgeology}
\Dp{1217}{828}{wade}
\Dp{1231}{830}{mystatlab}
\Dp{393}{847}{photon}
\Dp{390}{865}{graduate}
\Dp{389}{882}{analytical}
\Dp{463}{862}{calculus-based}
\Dp{442}{867}{}
\Dp{549}{847}{law}
\Dp{520}{857}{employment}
\Dp{607}{855}{business}
\Dp{605}{876}{entrepreneurial}
\Dp{662}{843}{administrative}
\Dp{683}{848}{communication}
\Dp{688}{860}{user}
\Dp{768}{858}{theater}
\Dp{894}{874}{nonlinear}
\Dp{897}{881}{dynamics+chaos}
\Dp{1155}{870}{test}
\Dp{1171}{876}{accounting}
\Dp{1188}{889}{managerial}
\Dp{1292}{897}{social}
\Dp{1331}{877}{brooks/cole}
\Dp{1330}{888}{welfare}
\Dp{1340}{890}{empowerment}
\Dp{1432}{895}{promise}
\Dp{1434}{905}{united}
\Dp{1541}{886}{}
\Dp{1562}{870}{}
\Dp{192}{901}{musical}
\Dp{207}{906}{ragtime}
\Dp{217}{912}{broadway}
\Dp{323}{905}{vocabulary}
\Dp{347}{918}{oxford}
\Dp{437}{937}{stable}
\Dp{504}{922}{chinese}
\Dp{527}{937}{princeton}
\Dp{578}{941}{modern}
\Dp{625}{935}{conceptual}
\Dp{667}{913}{university}
\Dp{732}{911}{discovering}
\Dp{784}{929}{game theory}
\Dp{849}{891}{dynamic}
\Dp{835}{898}{cooperative}
\Dp{1069}{907}{combined}
\Dp{1085}{890}{state}
\Dp{1078}{916}{people}
\Dp{1253}{913}{framing}
\Dp{1220}{900}{}
\Dp{10}{930}{explained}
\Dp{3}{915}{defined}
\Dp{107}{937}{gravity}
\Dp{99}{950}{einstein}
\Dp{36}{960}{derived}
\Dq{36}{960}{20}{984}{from}
\Dp{613}{955}{physic}
\Dp{611}{976}{extended}
\Dp{697}{960}{map}
\Dp{678}{978}{scientist}
\Dp{677}{989}{engineer}
\Dp{859}{960}{light}
\Dp{920}{961}{favors}
\Dp{953}{966}{evolution}
\Dp{976}{980}{manual}
\Dp{993}{943}{student}
\Dp{1067}{961}{concise}
\Dp{1144}{962}{copy}
\Dp{1098}{938}{unfinished}
\Dp{1101}{944}{solution}
\Dp{1188}{968}{states}
\Dq{1188}{968}{1207}{944}{taking}
\Dp{1275}{980}{garnett}
\Dp{1277}{993}{college}
\Dp{1367}{968}{healthcare}
\Dp{1372}{989}{integrating}
\Dp{1369}{996}{online}
\Dp{1463}{960}{experiencing}
\Dp{1550}{945}{}
\Dp{1548}{961}{}
\Dp{170}{975}{deviance}
\Dp{173}{997}{relativity}
\Dp{151}{1003}{social}
\Dp{185}{1013}{physicist}
\Dp{278}{975}{western}
\Dq{278}{975}{283}{1034}{zen}
\Dp{123}{1036}{spacetime}
\Dp{363}{968}{six-volume}
\Dp{378}{973}{set}
\Dp{331}{987}{encyclopedia}
\Dp{465}{993}{theorizing}
\Dp{474}{1000}{reader}
\Dp{488}{1016}{conscious}
\Dp{557}{1010}{marketing}
\Dp{663}{1026}{matlab}
\Dp{733}{1018}{probability}
\Dp{749}{1020}{}
\Dp{797}{988}{texas}
\Dp{819}{996}{}
\Dp{838}{993}{religion}
\Dp{851}{1014}{scripture}
\Dp{933}{1023}{chapter}
\Dq{933}{1023}{947}{994}{stewart}
\Dp{1003}{1005}{laboratory}
\Dp{1029}{1018}{serology}
\Dp{1080}{1031}{}
\Dp{1103}{1031}{biblical}
\Dp{1152}{1046}{kumar}
\Dq{1152}{1046}{1159}{1030}{clark}
\Dp{1249}{1057}{online}
\Dp{1263}{1055}{}
\Dp{1262}{1069}{content}
\Dp{1340}{1068}{cross-border}
\Dp{1438}{1071}{modeling}
\Dp{1533}{1011}{conservation}
\Dp{1505}{1020}{range}
\Dp{1437}{1038}{preparation}
\Dp{1342}{1092}{commerce}
\Dp{1335}{1105}{electronic}
\Dp{1350}{1110}{spectrum}
\Dp{1566}{1092}{}
\Dp{1522}{1132}{drama}
\Dp{1544}{1140}{action}
\Dp{1532}{1160}{backpack}
\Dp{43}{1072}{conversation}
\Dq{43}{1072}{47}{1041}{historical}
\Dp{279}{1054}{watching}
\Dp{392}{1036}{discover}
\Dp{384}{1055}{sociology}
\Dp{380}{1077}{down-to-earth}
\Dp{367}{1083}{mysoclab}
\Dp{250}{1080}{}
\Dp{267}{1079}{}
\Dp{292}{1095}{criticism}
\Dp{153}{1106}{communications-}
\Dl{153}{1106}{141}{1114}{infrastructure}
\Dp{526}{1074}{}
\Dp{544}{1062}{descartes}
\Dp{468}{1079}{connectionism}
\Dp{612}{1047}{python}
\Dp{650}{1048}{programming}
\Dp{682}{1067}{}
\Dp{689}{1067}{around}
\Dp{741}{1079}{loose-leaf}
\Dq{807}{1079}{787}{1044}{palaeoecology}
\Dp{827}{1076}{sciences}
\Dp{911}{1068}{variable}
\Dp{915}{1072}{single}
\Dp{985}{1070}{transcendentals}
\Dp{966}{1088}{calculus}
\Dp{935}{1100}{multivariable}
\Dp{989}{1103}{thomas}
\Dp{1084}{1101}{apprentice}
\Dl{1084}{1101}{1082}{1114}{hall}
\Dp{1165}{1118}{international}
\Dp{1252}{1140}{feminism-art-theory}
\Dp{460}{1102}{connection}
\Dp{465}{1114}{oil-world}
\Dp{601}{1099}{ecoimmunology}
\Dp{652}{1128}{immigrant}
\Dq{652}{1128}{636}{1115}{refugee}
\Dp{724}{1138}{introductory}
\Dp{737}{1142}{online-tutorials}
\Dp{857}{1134}{analysis}
\Dp{801}{1159}{exploration}
\Dp{909}{1164}{america}
\Dp{1017}{1152}{fairfax}
\Dp{1042}{1158}{management}
\Dp{1071}{1168}{risk}
\Dp{1121}{1184}{contingent}
\Dp{1152}{1178}{progression}
\Dp{1252}{1168}{anthology}
\Dp{1252}{1186}{literature}
\Dp{1367}{1191}{quantitative}
\Dq{1367}{1191}{1404}{1155}{psy}
\Dp{1376}{1211}{behavioral}
\Dp{1221}{1196}{tools}
\Dp{1536}{1159}{}
\Dp{51}{1157}{ideal-fluid}
\Dp{97}{1167}{helicopter}
\Dp{70}{1185}{aerodynamics}
\Dp{38}{1195}{compressible}
\Dp{77}{1203}{low-speed}
\Dp{213}{1166}{upgrade}
\Dp{251}{1164}{}
\Dp{275}{1164}{travel}
\Dp{227}{1171}{}
\Dp{384}{1153}{specie}
\Dp{400}{1164}{ecological}
\Dp{524}{1144}{how-to}
\Dp{522}{1150}{}
\Dp{566}{1156}{scheme}
\Dp{550}{1158}{}
\Dp{625}{1182}{internet}
\Dp{605}{1196}{evidence}
\Dp{686}{1200}{psychology}
\Dp{696}{1203}{}
\Dp{688}{1213}{abnormal}
\Dp{766}{1192}{}
\Dp{779}{1181}{astronomy}
\Dp{787}{1187}{observational}
\Dp{843}{1180}{beginner}
\Dp{840}{1193}{masteringastronomy}
\Dp{928}{1197}{}
\Dp{912}{1213}{five-volume}
\Dp{973}{1194}{seagull}
\Dp{311}{1198}{exploring}
\Dp{311}{1216}{project-based}
\Dp{434}{1196}{organic}
\Dp{470}{1196}{medicinal}
\Dp{423}{1211}{chemistry}
\Dp{193}{1227}{mcknight}
\Dp{405}{1228}{masteringchemistry}
\Dp{450}{1234}{inorganic}
\Dp{532}{1240}{non-linguists}
\Dp{1055}{1222}{}
\Dp{1070}{1222}{mathematics}
\Dp{1352}{1238}{interaction}
\Dp{1491}{1239}{michigan}
\Dl{152}{1262}{118}{1253}{aeronautics}
\Dp{186}{1250}{landscape}
\Dp{198}{1268}{mapping}
\Dp{60}{1274}{flight}
\Dp{283}{1270}{biologist}
\Dp{305}{1271}{bioinformatics}
\Dp{404}{1263}{central}
\Dp{688}{1243}{update}
\Dp{711}{1270}{twelfth}
\Dp{699}{1262}{}
\Dp{566}{1273}{w/web}
\Dp{583}{1273}{support}
\Dp{502}{1285}{recreation}
\Dp{541}{1302}{asm}
\Dp{768}{1277}{basis}
\Dp{756}{1298}{}
\Dp{749}{1291}{pharmacological}
\Dp{738}{1308}{}
\Dp{743}{1316}{therapeutic}
\Dp{862}{1299}{differential}
\Dq{862}{1299}{866}{1318}{equation}
\Dp{892}{1325}{boundary}
\Dp{938}{1290}{elementary}
\Dp{975}{1280}{step}
\Dp{968}{1278}{}
\Dq{975}{1280}{1003}{1313}{formula}
\Dp{1089}{1262}{undergraduate}
\Dp{1172}{1283}{center}
\Dl{1172}{1283}{1127}{1270}{hold}
\Dp{1235}{1272}{mean}
\Dp{1222}{1290}{cope}
\Dp{1342}{1273}{strategic}
\Dp{1464}{1279}{}
\Dp{1493}{1289}{forestry}
\Dp{1046}{1320}{standard}
\Dp{323}{1303}{geneticist}
\Dp{332}{1320}{genetic}
\Dp{337}{1343}{research}
\Dp{154}{1337}{compatible}
\Dp{236}{1341}{object-oriented}
\Dp{79}{1375}{pharmacy}
\Dq{79}{1375}{73}{1327}{technician}
\Dp{638}{1317}{digital+microprocessor}
\Dp{446}{1341}{internals}
\Dp{450}{1364}{operating}
\Dp{451}{1374}{system}
\Dp{346}{1367}{optimization}
\Dp{359}{1390}{regularization}
\Dp{1239}{1326}{discriminate}
\Dp{1254}{1341}{debate}
\Dp{1262}{1353}{activism}
\Dp{1366}{1321}{achieving}
\Dp{1378}{1340}{sustainability}
\Dp{1432}{1355}{positive}
\Dl{1432}{1355}{1400}{1357}{impact}
\Dp{1357}{1368}{stakeholder}
\Dp{1509}{1340}{woodland}
\Dp{1538}{1331}{}
\Dp{868}{1363}{fourier}
\Dp{877}{1371}{partial}
\Dp{893}{1396}{featured}
\Dq{893}{1396}{868}{1412}{title}
\Dp{969}{1363}{africa}
\Dp{1104}{1346}{assurance}
\Dp{1131}{1361}{insurance}
\Dp{1100}{1377}{mcgraw-hill/irwin}
\Dp{1072}{1380}{legal}
\Dp{1068}{1394}{estate}
\Dp{1126}{1393}{finance}
\Dp{1104}{1405}{corporate}
\Dp{1018}{1421}{commercial}
\Dp{1039}{1410}{investment}
\Dp{1101}{1433}{alternate}
\Dp{1187}{1418}{creation}
\Dp{1217}{1421}{managing}
\Dp{563}{1375}{overview}
\Dp{539}{1370}{balance}
\Dp{680}{1373}{performance}
\Dp{685}{1379}{installation}
\Dp{786}{1389}{experiment}
\Dp{560}{1401}{computer}
\Dp{274}{1406}{self-teaching}
\Dp{183}{1414}{salon}
\Dq{183}{1414}{187}{1432}{eagle}
\Dp{522}{1425}{}
\Dp{548}{1428}{}
\Dp{570}{1434}{architecture}
\Dp{588}{1425}{organization}
\Dp{634}{1435}{william}
\Dq{634}{1435}{644}{1417}{stalling}
\Dp{712}{1420}{digital}
\Dp{773}{1430}{cpld}
\Dp{787}{1425}{xilinx}
\Dp{779}{1438}{simulation}
\Dp{433}{1456}{multi-variable}
\Dp{436}{1478}{linear algebra}
\Dp{349}{1465}{planning}
\Dp{265}{1497}{northern}
\Dp{306}{1493}{}
\Dp{316}{1488}{statespaces}
\Dp{41}{1493}{role}
\Dq{41}{1493}{77}{1497}{institutional}
\Dp{59}{1475}{government}
\Dp{947}{1466}{discrete}
\Dp{807}{1474}{software}
\Dp{845}{1491}{hardware}
\Dp{854}{1487}{microcomputer}
\Dp{1474}{1480}{}
\Dp{1434}{1473}{population}
\Dp{1417}{1473}{}
\Dp{1505}{1490}{crisis}
\Dp{1327}{1454}{nutritional}
\Dp{1340}{1477}{assessment}
}
\def\regionF{%
\Dp{51}{18}{diesel}
\Dl{51}{18}{57}{7}{electricity}
\Dp{527}{11}{hardcover}
\Dp{558}{48}{philip}
\Dq{558}{48}{534}{78}{heller}
\Dp{414}{72}{school}
\Dp{410}{83}{johnson}
\Dp{218}{101}{sexual}
\Dp{244}{127}{outlaw}
\Dp{230}{133}{}
\Dq{244}{127}{240}{149}{city}
\Dp{105}{134}{diaspora}
\Dp{113}{147}{african}
\Dp{27}{146}{mediterranean}
\Dq{27}{146}{73}{163}{land}
\Dp{141}{174}{africana}
\Dp{783}{104}{leopard}
\Dq{806}{148}{791}{109}{multitasking}
\Dp{773}{148}{inclusion}
\Dp{806}{148}{balance}
\Dp{843}{144}{kernel}
\Dq{806}{148}{854}{159}{romable}
\Dp{785}{172}{freemode}
\Dp{828}{171}{ucos-iii}
\Dp{805}{182}{rtos}
\Dp{672}{169}{practitioner}
\Dp{698}{177}{real-time}
\Dp{740}{199}{microcontrollers}
\Dp{1085}{160}{reconstruction}
\Dq{1085}{160}{1088}{136}{towards}
\Dp{1074}{171}{semiotics}
\Dp{112}{245}{traversing}
\Dl{112}{245}{107}{232}{sail}
\Dp{282}{263}{throughput}
\Dq{282}{263}{314}{264}{sequencing}
\Dp{467}{245}{territory}
\Dp{475}{257}{result}
\Dq{467}{245}{572}{217}{city-state}
\Dp{423}{272}{origin}
\Dp{707}{240}{form}
\Dq{707}{240}{733}{262}{cortex}
\Dp{685}{270}{embedded}
\Dp{1205}{336}{}
\Dp{1226}{330}{leeds}
\Dp{1233}{349}{scale}
\Dp{1212}{355}{behavior}
\Dp{26}{356}{cellular}
\Dq{26}{356}{57}{355}{abbas}
\Dp{185}{346}{ruby}
\Dq{185}{346}{234}{332}{kindt}
\Dp{115}{377}{veterinary}
\Dp{118}{401}{immunology}
\Dp{90}{418}{mucosal}
\Dp{145}{417}{tritt}
\Dp{390}{391}{print}
\Dp{344}{398}{washington}
\Dp{313}{404}{subspecialty}
\Dp{305}{414}{asthma}
\Dp{320}{422}{allergy}
\Dp{284}{438}{consult}
\Dp{546}{386}{ktg}
\Dq{546}{386}{561}{423}{transition}
\Dp{773}{412}{individual}
\Dq{773}{412}{746}{440}{ecosystem}
\Dp{951}{418}{}
\Dp{964}{411}{ultimate}
\Dp{964}{428}{absolute}
\Dp{61}{500}{disorder}
\Dp{78}{513}{mandated}
\Dp{89}{511}{}
\Dp{211}{514}{unspeakable}
\Dp{328}{545}{song}
\Dq{328}{545}{331}{501}{dale}
\Dp{531}{522}{biographic}
\Dp{545}{520}{}
\Dp{540}{533}{positioning}
\Dp{688}{508}{precalculus}
\Dl{688}{508}{702}{518}{stewart/redlin/watson}
\Dp{441}{555}{guyton}
\Dp{481}{569}{textbook}
\Dp{67}{550}{function}
\Dp{64}{572}{transcendental}
\Dp{1305}{546}{map}
\Dp{1291}{555}{}
\Dp{1307}{559}{social}
\Dp{137}{621}{embracing}
\Dp{157}{627}{diversity}
\Dp{219}{628}{masteringgeography}
\Dp{216}{638}{globalization}
\Dp{220}{658}{changing}
\Dp{860}{603}{transnational}
\Dp{884}{623}{guardian}
\Dp{869}{632}{state}
\Dp{690}{635}{structural}
\Dq{690}{635}{710}{608}{monitoring}
\Dp{941}{671}{community}
\Dp{47}{677}{terrorism}
\Dp{50}{688}{homeland}
\Dp{335}{685}{shed}
\Dq{335}{685}{349}{666}{shadow}
\Dp{483}{652}{college}
\Dp{500}{655}{tester}
\Dp{478}{669}{}
\Dp{497}{672}{contingency}
\Dp{481}{721}{actuary}
\Dp{1028}{709}{consensus}
\Dq{1028}{709}{1003}{694}{participation}
\Dp{1004}{727}{designer}
\Dl{1004}{727}{1016}{731}{architect}
\Dp{1049}{756}{designing}
\Dp{10}{750}{awareness}
\Dp{61}{735}{security}
\Dp{104}{744}{security+}
\Dp{169}{744}{top}
\Dp{153}{766}{network}
\Dp{161}{787}{cybersecurity}
\Dp{97}{809}{cryptography}
\Dp{272}{767}{time}
\Dp{276}{793}{synchronization}
\Dp{303}{797}{}
\Dp{330}{801}{election}
\Dp{259}{817}{space}
\Dp{249}{833}{hilbert}
\Dp{466}{767}{solvency}
\Dp{461}{777}{manager}
\Dp{654}{765}{genome}
\Dp{676}{771}{sequence}
\Dp{708}{783}{string}
\Dq{708}{783}{769}{783}{tree}
\Dp{1281}{823}{}
\Dp{1312}{814}{produced}
\Dq{1312}{814}{1309}{797}{exploit}
\Dp{1348}{822}{labor}
\Dp{1312}{830}{elite}
\Dp{72}{873}{student}
\Dp{130}{876}{econometrics}
\Dp{110}{890}{practice}
\Dp{98}{913}{crunchit/eesee}
\Dp{156}{920}{techniques}
\Dp{578}{872}{license}
\Dq{578}{872}{601}{912}{cram}
\Dp{438}{900}{deriving}
\Dp{399}{910}{source}
\Dp{384}{913}{informatics}
\Dq{438}{900}{457}{924}{nanoscience}
\Dp{848}{874}{oncology}
\Dp{854}{890}{radiation}
\Dp{867}{922}{intensity}
\Dq{867}{922}{903}{923}{modulated}
\Dp{3}{965}{competition}
\Dp{276}{973}{}
\Dp{282}{972}{microsoft}
\Dp{280}{1012}{alba}
\Dl{280}{1012}{232}{1019}{modeler}
\Dp{333}{1023}{developing}
\Dp{352}{1029}{administering}
\Dp{653}{1006}{teach}
\Dp{691}{992}{understand}
\Dq{691}{992}{674}{958}{yourself}
\Dp{604}{1026}{spelling}
\Dp{563}{1032}{}
\Dp{541}{1037}{}
\Dl{563}{1032}{570}{1042}{phonics}
\Dp{509}{1051}{professional}
\Dp{1054}{1003}{}
\Dp{1058}{1006}{theorization}
\Dp{1079}{1017}{schiefer}
\Dp{112}{1025}{}
\Dp{105}{1043}{pop}
\Dl{76}{1081}{45}{1090}{country}
\Dp{81}{1101}{jazz}
\Dp{118}{1098}{rock}
\Dl{118}{1098}{123}{1109}{finest}
\Dp{32}{1108}{writing}
\Dp{254}{1075}{office}
\Dp{248}{1092}{patient}
\Dp{243}{1103}{payment}
\Dp{457}{1100}{investigating}
\Dp{476}{1113}{fraud}
\Dp{451}{1137}{auditing}
\Dp{428}{1166}{protecting}
\Dp{432}{1167}{}
\Dl{428}{1166}{410}{1177}{accessibility}
\Dp{411}{1189}{integrity}
\Dp{390}{1212}{decision-making}
\Dp{254}{1208}{industrial}
\Dp{258}{1215}{}
\Dp{854}{1083}{agro-industries}
\Dp{845}{1101}{civilisation}
\Dp{817}{1133}{republique}
\Dp{833}{1141}{francaise}
\Dq{833}{1141}{842}{1181}{avant}
\Dp{1335}{1085}{barney}
\Dp{1318}{1099}{}
\Dp{1340}{1105}{photograph}
\Dq{1340}{1105}{1357}{1115}{tina}
\Dp{678}{1211}{block}
\Dp{681}{1236}{coupon}
\Dp{699}{1242}{institution}
\Dp{627}{1242}{financial}
\Dp{663}{1271}{market}
\Dp{651}{1300}{bond}
\Dp{748}{1282}{unabridged}
\Dq{748}{1282}{795}{1267}{stock-trak}
\Dp{1011}{1256}{enhanced}
\Dp{987}{1277}{}
\Dp{1003}{1286}{result}
\Dp{985}{1293}{}
\Dp{1003}{1301}{hybrid}
\Dp{964}{1324}{math}
\Dp{125}{1229}{nirvana}
\Dp{119}{1252}{selfless}
\Dl{116}{1255}{131}{1238}{consciousness}
\Dp{81}{1266}{personality}
\Dp{45}{1281}{domain}
\Dp{17}{1299}{knowledge}
\Dp{2}{1290}{nature}
\Dp{167}{1284}{mind}
\Dp{185}{1297}{gateway}
\Dp{231}{1328}{}
\Dp{246}{1330}{relevant}
\Dp{497}{1308}{mymicrobiologyplace}
\Dp{487}{1322}{website}
\Dp{461}{1352}{premium}
\Dl{461}{1352}{433}{1363}{studyware}
\Dp{340}{1377}{cycle}
\Dp{349}{1406}{nutrition}
\Dp{345}{1430}{controversy}
\Dp{422}{1404}{}
\Dp{446}{1402}{diet}
\Dp{474}{1453}{dreams}
\Dp{488}{1445}{thread}
\Dq{474}{1453}{484}{1410}{lpn}
\Dp{689}{1478}{star}
\Dq{689}{1478}{695}{1405}{galaxy}
\Dp{28}{1403}{consolidation}
\Dl{22}{1405}{13}{1391}{antitrust}
\Dp{0}{1365}{agricultural}
\Dp{8}{1452}{}
\Dp{48}{1455}{finance}
\Dp{81}{1453}{agriculture}
\Dp{43}{1468}{committee}
\Dp{65}{1488}{hearing}
\Dp{130}{1444}{}
\Dp{163}{1439}{}
\Dp{195}{1440}{sustainable}
\Dp{248}{1438}{ecology}
\Dp{258}{1437}{cause}
\Dp{1194}{1476}{}
\Dp{1205}{1466}{schooling}
\Dp{1206}{1481}{suicidal}
}
\def\regionG{%
\Dp{648}{24}{foreword}
\Dp{661}{32}{buffett}
\Dq{648}{24}{638}{37}{watson}
\Dp{868}{52}{word}
\Dp{899}{69}{score}
\Dl{886}{79}{905}{76}{company}
\Dp{902}{82}{recording}
\Dp{1095}{95}{}
\Dp{1097}{92}{birnbaum}
\Dp{1088}{118}{singer}
\Dp{406}{112}{profiling}
\Dp{410}{133}{prediction}
\Dq{410}{133}{478}{120}{punishing}
\Dq{410}{133}{387}{163}{policing}
\Dp{1284}{32}{microelectronic}
\Dp{1428}{70}{prolog}
\Dl{1428}{70}{1430}{77}{programmer}
\Dp{1536}{24}{economics}
\Dp{1560}{38}{}
\Dp{1556}{86}{}
\Dp{1216}{170}{classroom}
\Dp{1227}{191}{teacher}
\Dp{1240}{206}{school}
\Dp{1230}{212}{}
\Dp{1308}{198}{linguistically}
\Dp{1323}{202}{culturally}
\Dp{1311}{216}{diverse}
\Dp{1395}{202}{gifted}
\Dp{1435}{204}{mastering}
\Dq{1435}{204}{1425}{191}{myeducationkit}
\Dp{1398}{224}{differentiated}
\Dl{1398}{224}{1385}{220}{instruction}
\Dp{943}{252}{despite}
\Dp{936}{265}{}
\Dp{953}{265}{thrive}
\Dp{943}{292}{uncertainty}
\Dp{1104}{300}{technical}
\Dq{1104}{300}{1078}{324}{twenty-first}
\Dp{757}{335}{monstrous-feminine}
\Dq{757}{335}{770}{301}{psychoanalysis}
\Dp{1515}{312}{independent}
\Dp{1522}{316}{measure}
\Dp{1275}{374}{communicating}
\Dl{1275}{374}{1272}{364}{success}
\Dp{1410}{400}{environmentalism}
\Dq{1410}{400}{1457}{405}{multiculturalism}
\Dp{559}{402}{}
\Dp{573}{401}{fashion}
\Dq{559}{402}{536}{443}{uniform}
\Dp{1021}{451}{educational}
\Dq{1021}{451}{1040}{430}{myeducationlab}
\Dp{1191}{487}{cantinalli}
\Dq{1191}{487}{1135}{513}{emergency}
\Dp{1343}{541}{marine}
\Dq{1343}{541}{1314}{518}{biodiversity}
\Dp{1521}{466}{re-entry}
\Dp{1537}{476}{}
\Dp{1547}{491}{}
\Dp{832}{569}{}
\Dp{848}{568}{axial-flow}
\Dq{848}{568}{839}{546}{radial-flow}
\Dp{1101}{632}{direction}
\Dp{1119}{646}{jewishness}
\Dp{1097}{653}{zionism}
\Dp{1397}{667}{reinforced}
\Dl{1397}{667}{1411}{681}{concrete}
\Dp{1548}{621}{}
\Dp{938}{811}{liquid-phase}
\Dq{938}{811}{980}{773}{equilibrium}
\Dp{1325}{789}{guidebook}
\Dp{1488}{918}{efficiency}
\Dp{1493}{926}{cooperation}
\Dp{1204}{955}{}
\Dp{1223}{957}{}
\Dp{1201}{973}{}
\Dp{1221}{975}{perception}
\Dp{1536}{998}{supply}
\Dp{1531}{1013}{}
\Dp{1547}{1008}{chain}
}
\def\regionH{%
\Dp{169}{20}{anthem}
\Dq{169}{20}{145}{42}{era}
\Dp{538}{20}{morgan}
\Dp{548}{50}{faith}
\Dp{591}{28}{kaufmann}
\Dp{602}{36}{interface}
\Dp{670}{36}{}
\Dp{695}{33}{family}
\Dp{704}{31}{motorola}
\Dp{614}{66}{design}
\Dp{798}{42}{interfacing}
\Dp{802}{65}{microprocessor}
\Dp{840}{76}{intel}
\Dp{796}{89}{}
\Dp{742}{99}{high-performance}
\Dp{953}{61}{variableplus}
\Dp{960}{78}{mymathlab}
\Dp{956}{94}{}
\Dp{1031}{53}{monetary}
\Dp{1010}{84}{pearson}
\Dp{1031}{101}{multinational}
\Dp{1085}{28}{economics}
\Dq{1085}{28}{1136}{33}{mcgraw-hill}
\Dp{1150}{75}{money}
\Dl{1150}{75}{1103}{75}{banking}
\Dp{1225}{20}{deuteronomy}
\Dq{1225}{20}{1232}{62}{judaean}
\Dp{1330}{63}{}
\Dp{1345}{65}{defender}
\Dp{1336}{77}{victim}
\Dp{1375}{92}{mental}
\Dp{1391}{103}{diagnostic}
\Dp{1530}{51}{lecture}
\Dp{1555}{22}{}
\Dp{12}{216}{record}
\Dq{12}{216}{0}{171}{computerized}
\Dp{407}{84}{channel}
\Dp{457}{102}{preface}
\Dp{370}{105}{service}
\Dp{403}{107}{marketing}
\Dp{120}{115}{disability}
\Dp{236}{103}{credits}
\Dp{241}{112}{involving}
\Dp{106}{143}{common}
\Dp{124}{146}{chronic}
\Dp{112}{155}{problems}
\Dp{273}{147}{myprogramminglab}
\Dp{302}{166}{control}
\Dp{311}{170}{starting}
\Dp{400}{173}{portable}
\Dp{415}{169}{masterplan}
\Dl{400}{173}{393}{188}{customer-based}
\Dp{570}{136}{integrated}
\Dp{595}{133}{}
\Dp{570}{158}{analog}
\Dp{665}{122}{microelectronics}
\Dp{676}{150}{circuit}
\Dp{700}{158}{electric}
\Dp{654}{174}{microelectronic}
\Dp{727}{166}{masteringengineering}
\Dp{806}{180}{conventional}
\Dq{806}{180}{850}{166}{current}
\Dp{902}{168}{intermediate}
\Dp{920}{196}{support}
\Dp{525}{186}{amplifier}
\Dp{531}{184}{operational}
\Dp{1036}{178}{myreligionlab}
\Dp{1124}{166}{invitation}
\Dp{1127}{196}{environmental}
\Dp{1149}{204}{inquiry}
\Dp{1064}{209}{saving}
\Dp{1075}{229}{planet}
\Dp{1068}{245}{blue}
\Dp{1236}{142}{nuclear}
\Dq{1236}{142}{1216}{159}{pet/ct}
\Dp{1279}{203}{technical}
\Dp{1318}{205}{}
\Dp{1326}{206}{investigative}
\Dp{1356}{196}{forensic}
\Dq{1318}{205}{1298}{169}{scientific}
\Dp{1443}{210}{local}
\Dp{1476}{175}{forest}
\Dp{1523}{168}{}
\Dp{1533}{167}{wildlife}
\Dp{195}{240}{solid}
\Dp{201}{256}{device}
\Dp{204}{273}{semiconductor}
\Dp{338}{261}{decision-focused}
\Dp{328}{277}{strategy}
\Dp{314}{300}{sociotechnical}
\Dp{452}{278}{}
\Dp{468}{284}{database}
\Dp{498}{274}{distributed}
\Dp{606}{265}{musikar}
\Dq{606}{265}{608}{286}{connecting}
\Dp{717}{243}{vhdl}
\Dp{737}{267}{logic}
\Dp{754}{284}{modelling}
\Dp{774}{304}{reasoning}
\Dp{778}{318}{}
\Dp{810}{317}{temporal}
\Dp{858}{285}{element}
\Dp{958}{298}{top-down}
\Dp{960}{307}{networking}
\Dp{1141}{271}{eighth}
\Dp{1127}{298}{binder}
\Dl{1127}{298}{1147}{311}{ready}
\Dp{1290}{306}{geographic}
\Dp{1458}{304}{homicide}
\Dq{1458}{304}{1470}{272}{tactic}
\Dp{1307}{327}{resource}
\Dp{1320}{343}{gvd}
\Dp{1301}{356}{thermal-fluid}
\Dp{1427}{335}{procedure}
\Dp{1524}{334}{}
\Dp{1533}{337}{investigation}
\Dp{1391}{369}{csi}
\Dq{1391}{369}{1429}{382}{insert}
\Dp{80}{327}{data}
\Dp{92}{338}{window}
\Dp{104}{353}{linux}
\Dp{469}{347}{}
\Dp{490}{348}{implementation}
\Dp{451}{355}{}
\Dp{640}{357}{}
\Dp{650}{356}{integrative}
\Dp{814}{358}{ethic}
\Dp{805}{392}{skills-based}
\Dp{955}{383}{}
\Dp{978}{384}{games}
\Dp{966}{401}{chess}
\Dq{978}{384}{1020}{418}{keith}
\Dp{1125}{392}{expose}
\Dl{1125}{392}{1100}{381}{leaf}
\Dp{1164}{386}{version}
\Dp{1195}{395}{ansi}
\Dp{150}{410}{parallel}
\Dp{157}{418}{workstation}
\Dp{327}{405}{testing}
\Dp{307}{416}{measurement}
\Dl{307}{416}{310}{432}{test}
\Dp{174}{442}{networked}
\Dp{186}{458}{reader}
\Dp{0}{455}{education}
\Dp{747}{431}{industrial/organizational}
\Dp{767}{438}{applied}
\Dp{489}{465}{cognition}
\Dq{489}{465}{497}{485}{brain}
\Dp{615}{456}{semi-riemannian}
\Dp{624}{460}{geometry}
\Dp{685}{473}{future}
\Dp{802}{460}{expanded}
\Dp{1070}{490}{appreciative}
\Dp{1071}{506}{view}
\Dp{1072}{523}{micro}
\Dp{1423}{481}{application-oriented}
\Dp{1422}{498}{complete}
\Dp{357}{517}{workbook}
\Dp{350}{541}{learn}
\Dp{342}{566}{read}
\Dp{680}{515}{chapman}
\Dq{680}{515}{696}{530}{hall/crc}
\Dp{932}{523}{fixed}
\Dl{932}{523}{893}{531}{income}
\Dp{1245}{545}{}
\Dp{1243}{551}{cardlaw}
\Dq{1243}{551}{1265}{576}{combo}
\Dp{1408}{536}{}
\Dp{1429}{535}{microbiological}
\Dp{1416}{550}{microbiological}
\Dp{1491}{590}{brown}
\Dp{1497}{594}{difference}
\Dp{156}{583}{bigley}
\Dp{149}{592}{mechanical}
\Dp{132}{611}{vibration}
\Dp{529}{582}{reliability}
\Dp{531}{605}{queueing}
\Dp{534}{635}{markov}
\Dq{534}{635}{517}{622}{chain}
\Dp{329}{597}{entertaining}
\Dp{341}{606}{professor}
\Dp{322}{609}{}
\Dp{335}{634}{lively}
\Dp{538}{665}{evaluation}
\Dp{807}{578}{longitudinal}
\Dp{817}{590}{bailey}
\Dp{876}{580}{}
\Dp{910}{574}{evaluation}
\Dp{926}{587}{statement}
\Dp{1139}{628}{oxford/apr}
\Dq{1139}{628}{1129}{580}{access/phils}
\Dp{1205}{611}{connect}
\Dp{1215}{632}{}
\Dp{1242}{632}{learnsmart}
\Dp{1174}{657}{plus/learnsmart}
\Dp{770}{642}{kafkaful}
\Dp{743}{660}{regulatory}
\Dp{709}{664}{}
\Dp{726}{670}{}
\Dp{1188}{696}{includes}
\Dp{1180}{709}{}
\Dp{1199}{706}{}
\Dp{985}{718}{example}
\Dp{988}{735}{explanation}
\Dp{990}{746}{start}
\Dp{1196}{741}{storm}
\Dp{1199}{754}{unity}
\Dp{706}{712}{ecommerce}
\Dp{696}{730}{business}
\Dp{1432}{734}{hospitality}
\Dq{1432}{734}{1448}{754}{tourism}
\Dp{12}{760}{complex}
\Dq{12}{760}{39}{771}{carbohydrate}
\Dp{220}{745}{wave}
\Dp{220}{767}{oscillation}
\Dq{220}{745}{179}{727}{prelude}
\Dp{413}{777}{}
\Dp{440}{776}{}
\Dp{452}{776}{terminology}
\Dp{853}{800}{fiddler}
\Dp{1355}{862}{rock}
\Dq{1355}{862}{1365}{876}{microorganism}
\Dp{687}{880}{program}
\Dp{718}{908}{exercising}
\Dp{699}{915}{}
\Dp{716}{926}{}
\Dp{750}{919}{fitness}
\Dp{688}{936}{}
\Dp{720}{947}{option}
\Dp{131}{892}{episode}
\Dq{131}{892}{84}{905}{medieval}
\Dp{320}{917}{quest}
\Dq{320}{917}{300}{937}{truth}
\Dp{502}{903}{investigative}
\Dp{1013}{902}{magic}
\Dq{1013}{902}{1025}{927}{witchcraft}
\Dp{1031}{947}{ghost}
\Dp{239}{1075}{drama}
\Dp{253}{1081}{shaping}
\Dp{238}{1089}{}
\Dp{516}{1075}{mechanism}
\Dp{508}{1086}{}
\Dp{524}{1086}{target}
\Dp{1275}{1054}{healing}
\Dl{1275}{1054}{1225}{1054}{sub-saharan}
\Dp{1296}{1082}{bibliography}
\Dq{1296}{1082}{1320}{1025}{index}
\Dl{1296}{1082}{1247}{1072}{afro-american}
\Dq{1296}{1082}{1292}{1106}{traditional}
\Dq{1296}{1082}{1300}{1127}{classified}
\Dp{929}{1133}{afro-surinamese}
\Dp{917}{1158}{passion}
\Dp{805}{1206}{love}
\Dp{884}{1193}{fulfillment}
\Dp{858}{1205}{}
\Dp{875}{1212}{intimacy}
\Dp{916}{1207}{receiving}
\Dp{890}{1221}{improving}
\Dp{920}{1234}{venus}
\Dp{861}{1236}{mars}
\Dp{897}{1250}{giving}
\Dp{875}{1268}{secret}
\Dp{409}{1272}{causality}
\Dp{403}{1285}{}
\Dp{420}{1283}{mutual}
\Dp{1438}{1350}{cuba}
\Dl{1438}{1350}{1412}{1344}{bat}
\Dp{1463}{1360}{carlos}
\Dq{1463}{1360}{1497}{1372}{aldama}
}
\def\regionI{%
\Dp{855}{24}{}
\Dp{875}{22}{}
\Dp{892}{18}{seven}
\Dp{318}{54}{organizational}
\Dp{341}{81}{}
\Dp{364}{76}{masteringnutrition}
\Dp{327}{99}{myplate}
\Dp{161}{118}{masteringa}
\Dp{133}{152}{benjamin}
\Dl{133}{152}{139}{160}{cummings}
\Dp{100}{183}{art}
\Dp{89}{192}{dissection}
\Dp{519}{118}{test}
\Dp{529}{135}{personal}
\Dp{595}{141}{genderspeak}
\Dq{595}{141}{617}{120}{effectiveness}
\Dp{419}{177}{vista}
\Dp{444}{193}{help}
\Dp{436}{208}{develop}
\Dp{475}{211}{focus}
\Dp{405}{219}{skill}
\Dq{436}{208}{446}{234}{successful}
\Dp{773}{186}{mirror}
\Dl{773}{186}{764}{201}{humanity}
\Dp{1040}{253}{}
\Dp{1058}{247}{bastard}
\Dp{1065}{264}{virginia}
\Dp{1046}{271}{wood}
\Dp{238}{266}{nonviolence}
\Dl{238}{266}{204}{263}{peace}
\Dp{276}{313}{}
\Dp{295}{307}{consumer}
\Dp{467}{294}{active}
\Dp{445}{307}{illuminated}
\Dp{513}{325}{lifestyle}
\Dq{513}{325}{518}{347}{wellness}
\Dp{96}{336}{virtue}
\Dq{96}{336}{68}{313}{instinct}
\Dp{103}{370}{cooperation}
\Dp{106}{387}{stochastics}
\Dp{264}{369}{perl}
\Dq{264}{369}{223}{400}{mysql}
\Dp{770}{379}{travesti}
\Dp{789}{392}{brazilian}
\Dq{789}{392}{795}{332}{prostitute}
\Dq{789}{392}{806}{405}{transgendered}
\Dp{28}{486}{pension}
\Dq{28}{486}{99}{532}{fund}
\Dp{327}{523}{}
\Dp{342}{521}{experimental}
\Dq{342}{521}{378}{534}{abundance}
\Dp{598}{555}{defeat}
\Dq{598}{555}{581}{528}{news}
\Dp{153}{582}{exile}
\Dq{153}{582}{128}{610}{stranger}
\Dp{937}{627}{}
\Dp{965}{625}{truth}
\Dq{965}{625}{943}{595}{journalist}
\Dq{965}{625}{948}{605}{investigates}
\Dl{965}{625}{947}{635}{objection}
\Dp{42}{712}{party}
\Dq{42}{712}{32}{681}{changed}
\Dp{436}{704}{addiction}
\Dp{409}{733}{sex}
\Dl{409}{733}{403}{743}{pornography}
\Dp{373}{761}{prostitution}
\Dp{327}{783}{sale}
\Dl{327}{783}{274}{781}{lease}
\Dp{229}{804}{transaction}
\Dp{268}{812}{murray}
\Dq{268}{812}{325}{804}{national}
\Dp{655}{856}{commitment}
\Dp{635}{860}{work}
\Dp{670}{871}{marriage}
\Dp{628}{878}{divorce}
\Dp{662}{889}{husband}
\Dp{642}{893}{}
\Dp{5}{922}{speed}
\Dq{5}{922}{66}{936}{budgeting}
\Dp{229}{1151}{}
\Dp{257}{1150}{orthogonality}
\Dl{257}{1150}{255}{1138}{real-variable}
\Dl{257}{1150}{270}{1157}{oscillatory}
\Dq{257}{1150}{237}{1172}{integral}
}
\def\allregions{%
\onregion{720}{687}{\regionA}%
\onregion{2210}{687}{\regionB}%
\onregion{3700}{687}{\regionC}%
\onregion{720}{2140}{\regionD}%
\onregion{2210}{2140}{\regionE}%
\onregion{3700}{2140}{\regionF}%
\onregion{720}{3550}{\regionG}%
\onregion{2210}{3550}{\regionH}%
\onregion{3700}{3550}{\regionI}%
}
\begin{document}
% dot glyph sized to 5.2pt ink diameter
\setbox\dotraw\hbox{\fontsize{10pt}{10pt}\selectfont ●}%
\dotsz=\dimexpr 10pt*340787/\numexpr\ht\dotraw+\dp\dotraw\relax\relax
\setbox\dotraw\hbox{\fontsize{\the\dotsz}{\the\dotsz}\selectfont ●}%
\setbox\dotbox\hbox to 0pt{\kern-0.5\wd\dotraw\lower\dimexpr(\ht\dotraw-\dp\dotraw)/2\relax\copy\dotraw\hss}%
\begin{tikzpicture}[x=0.01cm,y=-0.01cm]
\useasboundingbox (0,0) rectangle (5760,5760);
\fill[white] (0,0) rectangle (5760,5760);
% frame
\coordinate (fa) at (720,691);
\coordinate (fb) at (5184,5040);
\draw[line width=0.3pt,black!85] (fa) rectangle (fb);
\foreach \xv/\lab in {1199/−75,1788/−50,2377/−25,2966/0,3555/25,4144/50,4733/75}{
  \draw[tick] (\xv,5040) -- ++(0,4);
  \node[ticklbl,anchor=north] at (\xv,5047) {\lab};
}
\foreach \yv/\lab in {819/100,1348/75,1876/50,2404/25,2932/0,3460/−25,3988/−50,4516/−75}{
  \draw[tick] (720,\yv) -- ++(-3,0);
  \node[ticklbl,anchor=east] at (711,\yv) {\lab};
}
% pass 1: connectors
\def\Dp#1#2#3{}
\def\Dl#1#2#3#4#5{}
\def\Dq#1#2#3#4#5{\draw[conn] (#1,#2) -- (#3,#4);}
\def\onregion#1#2#3{\begin{scope}[shift={(#1,#2)}]\begin{scope}[scale=0.950255]#3\end{scope}\end{scope}}
\allregions
% pass 2: dots
\def\Dp#1#2#3{\put(#1,-#2){\usebox\dotbox}}
\def\Dq#1#2#3#4#5{\put(#1,-#2){\usebox\dotbox}}
\let\Dl\Dq
\def\onregion#1#2#3{\put(#1,-#2){\unitlength=0.00950255cm\begin{picture}(0,0)#3\end{picture}}}
\node[inner sep=0pt,anchor=base west,text=black!88] (dots) at (0,0) {\unitlength=0.01cm\begin{picture}(0,0)\allregions\end{picture}};
% pass 3: labels
\def\Dp#1#2#3{\put(#1,-#2){\kern0.45pt\hbox{#3}}}
\def\Dq#1#2#3#4#5{\put(#3,-#4){\lower0.77pt\hbox{#5}}}
\let\Dl\Dq
\node[inner sep=0pt,anchor=base west,text=black] (labels) at (0,0) {\lblfont\unitlength=0.01cm\begin{picture}(0,0)\allregions\end{picture}};
\end{tikzpicture}
\end{document}
